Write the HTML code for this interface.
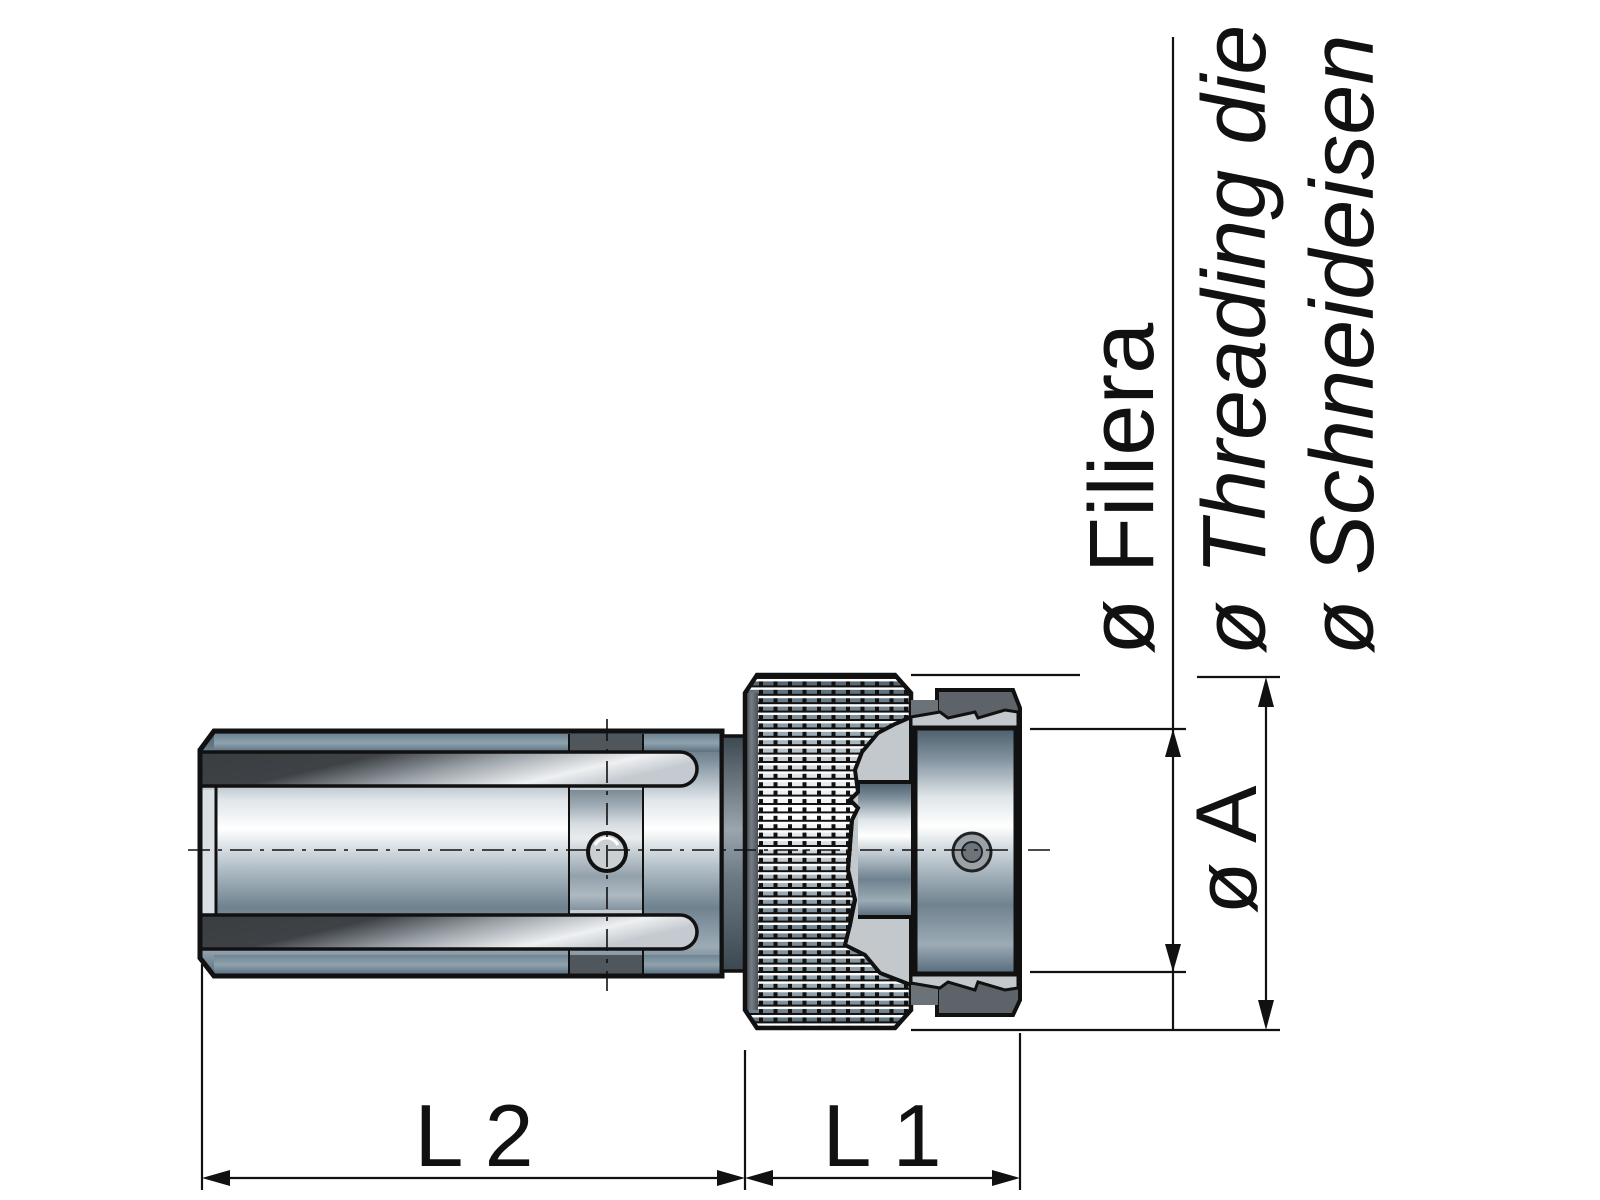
<!DOCTYPE html>
<html><head><meta charset="utf-8"><style>
html,body{margin:0;padding:0;background:#fff;width:1600px;height:1200px;overflow:hidden}
svg{display:block}
text{font-family:"Liberation Sans",sans-serif;fill:#111}
</style></head><body>
<svg width="1600" height="1200" viewBox="0 0 1600 1200" xmlns="http://www.w3.org/2000/svg">
<defs>
<linearGradient id="met" x1="0" y1="0" x2="0" y2="1">
<stop offset="0" stop-color="#4c5e6b"/><stop offset="0.12" stop-color="#7e909c"/>
<stop offset="0.28" stop-color="#dfe5e9"/><stop offset="0.4" stop-color="#ffffff"/>
<stop offset="0.55" stop-color="#b6c2ca"/><stop offset="0.72" stop-color="#6f828f"/>
<stop offset="0.88" stop-color="#9cabb5"/><stop offset="1" stop-color="#55697a"/>
</linearGradient>
<linearGradient id="strip" x1="0" y1="0" x2="0" y2="1">
<stop offset="0" stop-color="#6e8494"/><stop offset="0.5" stop-color="#8fa2ae"/><stop offset="1" stop-color="#5c7282"/>
</linearGradient>
<linearGradient id="slot" x1="0" y1="0" x2="1" y2="0.3">
<stop offset="0" stop-color="#3a3d40"/><stop offset="0.35" stop-color="#3e4246"/>
<stop offset="0.6" stop-color="#9aa2a8"/><stop offset="0.85" stop-color="#eef0f2"/><stop offset="1" stop-color="#c4cacf"/>
</linearGradient>
<linearGradient id="dark" x1="0" y1="0" x2="1" y2="0">
<stop offset="0" stop-color="#3d4247"/><stop offset="0.5" stop-color="#767d84"/><stop offset="1" stop-color="#4a5056"/>
</linearGradient>
<linearGradient id="neck" x1="0" y1="0" x2="0" y2="1">
<stop offset="0" stop-color="#3c4850"/><stop offset="0.4" stop-color="#9aa5ad"/><stop offset="0.6" stop-color="#6c7a84"/><stop offset="1" stop-color="#3c4850"/>
</linearGradient>
<pattern id="knurl" x="759" y="677" width="14.5" height="8.4" patternUnits="userSpaceOnUse">
<rect x="0" y="0" width="4" height="8.4" fill="#111"/>
<rect x="0" y="0" width="14.5" height="2" fill="#111"/>
<rect x="0" y="2" width="14.5" height="2.4" fill="#fff"/>
</pattern>
</defs>

<!-- collet body -->
<path d="M214,731 L722,731 L722,976 L214,976 L200,958 L200,750 Z" fill="url(#met)"/>
<rect x="214" y="734" width="508" height="18" fill="url(#strip)"/>
<rect x="214" y="955" width="508" height="19" fill="url(#strip)"/>
<rect x="569" y="734" width="74" height="18" fill="#4f565c"/>
<rect x="569" y="955" width="74" height="19" fill="#4f565c"/>
<rect x="569" y="786" width="74" height="129" fill="#c8cfd4"/>
<rect x="570" y="790" width="72" height="120" fill="url(#met)" opacity="0.6"/>
<line x1="569" y1="734" x2="569" y2="974" stroke="#111" stroke-width="2"/>
<line x1="643" y1="734" x2="643" y2="974" stroke="#111" stroke-width="2"/>
<rect x="201" y="790" width="14" height="126" fill="#d9dfe3"/>
<line x1="216" y1="786" x2="216" y2="915" stroke="#111" stroke-width="3"/>
<path d="M200,752 L680,752 A17,17 0 0 1 680,786 L200,786 Z" fill="url(#slot)" stroke="#111" stroke-width="3.5"/>
<path d="M200,915 L680,915 A17,17 0 0 1 680,949 L200,949 Z" fill="url(#slot)" stroke="#111" stroke-width="3.5"/>
<path d="M214,731 L722,731 L722,976 L214,976 L200,958 L200,750 Z" fill="none" stroke="#111" stroke-width="5"/>
<line x1="200" y1="752" x2="214" y2="733" stroke="#111" stroke-width="2"/>
<circle cx="607" cy="852" r="19" fill="#c9cfd3" stroke="#111" stroke-width="4"/>
<path d="M595,845 A13,13 0 0 1 618,845" stroke="#fff" stroke-width="3" fill="none"/>

<!-- neck -->
<rect x="722" y="736" width="23" height="235" fill="url(#neck)" stroke="#111" stroke-width="3.5"/>

<!-- knurled nut -->
<path d="M757,675 L895,675 L911,693 L911,1010 L895,1028 L757,1028 L745,1010 L745,693 Z" fill="url(#met)"/>
<path d="M757,675 L895,675 L911,693 L911,1010 L895,1028 L757,1028 L745,1010 L745,693 Z" fill="url(#knurl)"/>
<rect x="745" y="693" width="13" height="317" fill="url(#dark)"/>
<path d="M757,675 L895,675 L911,693 L911,1010 L895,1028 L757,1028 L745,1010 L745,693 Z" fill="none" stroke="#111" stroke-width="4.5"/>
<path d="M911,717 L895,724 L878,733 L862,752 L855,770 L858,792 L850,800 L858,808 L852,820 L848,870 L855,900 L850,925 L845,945 L865,955 L880,973 L911,985 Z" fill="#c3c8cd" stroke="#111" stroke-width="4"/>
<rect x="858" y="782" width="53" height="135" fill="url(#met)"/>
<line x1="858" y1="782" x2="911" y2="782" stroke="#111" stroke-width="4"/>
<line x1="858" y1="917" x2="911" y2="917" stroke="#111" stroke-width="4"/>
<path d="M858,782 L858,792 L850,800 L858,808 L852,820 L848,870 L855,900 L850,917" fill="none" stroke="#111" stroke-width="4"/>

<!-- cap -->
<path d="M937,690 L1013,690 L1020,708 L1020,1000 L1013,1015 L937,1015 Z" fill="#5d6368" stroke="#111" stroke-width="4"/>
<rect x="911" y="700" width="27" height="20" fill="#6b7278"/>
<rect x="911" y="985" width="27" height="20" fill="#6b7278"/>
<path d="M911,717 L940,712 L948,718 L975,712 L978,718 L1005,710 L1018,712 L1018,728 L911,728 Z" fill="#c3c8cd" stroke="#111" stroke-width="3"/>
<path d="M911,983 L940,988 L948,982 L975,990 L978,982 L1005,990 L1018,988 L1018,974 L911,974 Z" fill="#c3c8cd" stroke="#111" stroke-width="3"/>
<rect x="915" y="728" width="101" height="246" fill="url(#met)" stroke="#111" stroke-width="5"/>
<circle cx="972" cy="852" r="19" fill="#9aa2a8" stroke="#222" stroke-width="3"/>
<circle cx="972" cy="852" r="10" fill="#6d757c" stroke="#222" stroke-width="2"/>

<!-- centerlines on top -->
<line x1="188" y1="850" x2="1050" y2="850" stroke="#111" stroke-width="1.6" stroke-dasharray="22,8,4,8"/>
<line x1="607" y1="719" x2="607" y2="991" stroke="#111" stroke-width="1.6" stroke-dasharray="22,8,4,8"/>

<!-- dimension lines -->
<g stroke="#111" stroke-width="2.2" fill="none">
<line x1="202" y1="964" x2="202" y2="1190"/>
<line x1="745" y1="1050" x2="745" y2="1190"/>
<line x1="1020" y1="1033" x2="1020" y2="1190"/>
<line x1="215" y1="1178" x2="733" y2="1178"/>
<line x1="757" y1="1178" x2="1008" y2="1178"/>
<line x1="911" y1="675" x2="1080" y2="675"/>
<line x1="911" y1="1030" x2="1280" y2="1030"/>
<line x1="1030" y1="729" x2="1186" y2="729"/>
<line x1="1030" y1="972" x2="1186" y2="972"/>
<line x1="1197" y1="677" x2="1280" y2="677"/>
<line x1="1173" y1="37" x2="1173" y2="1030"/>
<line x1="1266" y1="690" x2="1266" y2="1018"/>
</g>
<g fill="#111">
<path d="M202,1178 L230,1170 L230,1186 Z"/>
<path d="M745,1178 L717,1170 L717,1186 Z"/>
<path d="M745,1178 L773,1170 L773,1186 Z"/>
<path d="M1020,1178 L992,1170 L992,1186 Z"/>
<path d="M1173,729 L1165,757 L1181,757 Z"/>
<path d="M1173,972 L1165,944 L1181,944 Z"/>
<path d="M1266,677 L1258,707 L1274,707 Z"/>
<path d="M1266,1030 L1258,1000 L1274,1000 Z"/>
</g>

<!-- labels -->
<text x="474" y="1166" font-size="88" text-anchor="middle">L 2</text>
<text x="882" y="1166" font-size="88" text-anchor="middle">L 1</text>
<text transform="translate(1256,850) rotate(-90)" font-size="86" text-anchor="middle">ø A</text>
<text transform="translate(1153,655) rotate(-90)" font-size="92">ø Filiera</text>
<text transform="translate(1265,655) rotate(-90)" font-size="90" font-style="italic">ø Threading die</text>
<text transform="translate(1373,655) rotate(-90)" font-size="90" font-style="italic">ø Schneideisen</text>
</svg>
</body></html>
